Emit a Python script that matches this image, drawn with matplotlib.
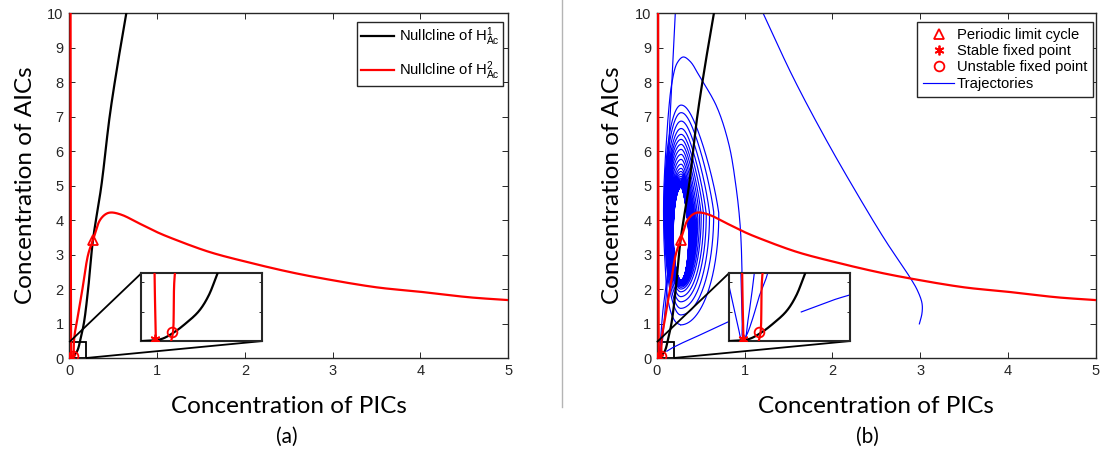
import numpy as np
import matplotlib.pyplot as plt
from matplotlib.lines import Line2D
from mpl_toolkits.axes_grid1.inset_locator import mark_inset

plt.rcParams['font.family'] = ['Liberation Sans', 'DejaVu Sans']
plt.rcParams['mathtext.default'] = 'regular'

# nullcline of H_Ac^1
h1_x = [0.0, 0.03, 0.05, 0.07, 0.09, 0.105, 0.12, 0.166, 0.215, 0.27, 0.366, 0.46, 0.55, 0.65]
h1_y = [0.0, 0.012, 0.055, 0.12, 0.2, 0.3, 0.46, 1.0, 2.0, 3.42, 5.0, 7.0, 8.5, 10.0]

# nullcline of H_Ac^2: branch along the AIC axis and the humped branch
h2a_x = [0.023, 0.021, 0.019, 0.017, 0.015]
h2a_y = [0.0, 0.46, 2.0, 5.0, 10.0]
h2b_x = [0.047, 0.05, 0.053, 0.065, 0.083, 0.15, 0.215, 0.27, 0.35, 0.42, 0.48, 0.6,
         0.8, 1.0, 1.17, 1.59, 2.0, 2.5, 2.88, 3.5, 4.0, 4.56, 5.0]
h2b_y = [0.0, 0.062, 0.46, 0.75, 1.0, 2.0, 3.0, 3.42, 4.0, 4.18, 4.22, 4.15,
         3.9, 3.65, 3.47, 3.08, 2.8, 2.5, 2.31, 2.05, 1.92, 1.76, 1.68]

# fixed points
cycle_pt = (0.27, 3.42)
stable_pt = (0.022, 0.016)
unstable_pt = (0.048, 0.062)

# trajectories
far_x = [1.21, 1.55, 1.93, 2.3, 2.6, 2.89, 2.97, 3.02, 3.02, 2.99]
far_y = [10.0, 8.15, 6.32, 4.68, 3.42, 2.31, 1.95, 1.59, 1.3, 0.99]

outer_x = [0.97, 0.97, 0.95, 0.9, 0.82, 0.68, 0.49, 0.38, 0.30, 0.23, 0.17, 0.135, 0.115,
           0.09, 0.077, 0.08, 0.096, 0.12, 0.17, 0.22, 0.27]
outer_y = [1.3, 2.46, 3.8, 5.0, 6.2, 7.3, 8.15, 8.6, 8.73, 8.55, 7.96, 7.2, 6.51,
           5.5, 4.58, 3.5, 2.65, 1.8, 1.25, 1.03, 0.96]

top_x = [0.21, 0.19, 0.17, 0.15, 0.135, 0.125, 0.12, 0.12, 0.125]
top_y = [10.0, 9.0, 8.0, 7.0, 6.0, 5.4, 5.0, 4.5, 4.0]

low_x = [0.114, 0.14, 0.165, 0.19, 0.3, 0.45, 0.6, 0.81, 0.9]
low_y = [0.198, 0.24, 0.28, 0.313, 0.45, 0.62, 0.8, 1.05, 1.15]

u1_x = [0.0, 0.0076, 0.015, 0.019, 0.023, 0.0285, 0.038, 0.0475, 0.061, 0.075, 0.09, 0.11, 0.13]
u1_y = [0.38, 0.23, 0.092, 0.023, 0.009, 0.046, 0.16, 0.3, 0.46, 0.8, 1.3, 1.9, 2.5]

u2_x = [0.019, 0.02, 0.021, 0.022, 0.025, 0.03, 0.036, 0.04, 0.05, 0.07, 0.1, 0.13]
u2_y = [0.46, 0.276, 0.138, 0.023, 0.014, 0.138, 0.32, 0.46, 0.8, 1.4, 2.0, 2.6]

# turns of the spiral winding onto the limit cycle (extremes of each turn)
loop_top = [7.43, 7.24, 6.99, 6.75, 6.56, 6.41, 6.27, 6.12, 5.98, 5.83,
            5.69, 5.55, 5.45, 5.37, 5.3, 5.24, 5.19, 5.15, 5.11, 5.08,
            5.05, 5.03, 5.01, 4.99, 4.98, 4.97, 4.96, 4.955, 4.95, 4.95]
loop_bottom = [0.96, 1.25, 1.44, 1.63, 1.78, 1.92, 2.0, 2.05, 2.09, 2.12,
               2.14, 2.16, 2.18, 2.19, 2.2, 2.21, 2.22, 2.225, 2.23, 2.235,
               2.24, 2.245, 2.25, 2.25, 2.255, 2.255, 2.26, 2.26, 2.26, 2.26]
loop_left = [0.075, 0.085, 0.094, 0.102, 0.109, 0.115, 0.12, 0.125, 0.13, 0.135,
             0.14, 0.145, 0.149, 0.153, 0.157, 0.161, 0.165, 0.168, 0.171, 0.174,
             0.177, 0.179, 0.181, 0.183, 0.184, 0.185, 0.186, 0.186, 0.187, 0.187]
loop_right = [0.72, 0.66, 0.61, 0.57, 0.54, 0.51, 0.49, 0.47, 0.455, 0.443,
              0.432, 0.423, 0.415, 0.408, 0.402, 0.396, 0.391, 0.386, 0.382, 0.378,
              0.375, 0.372, 0.37, 0.368, 0.367, 0.366, 0.365, 0.365, 0.364, 0.364]
loop_xc = 0.275


def smooth(x, y, n=24, sx=88.0, sy=34.5):
    # centripetal Catmull-Rom through the points, measured in screen-like units
    P = np.column_stack([np.asarray(x, float) * sx, np.asarray(y, float) * sy])
    P = np.vstack([2 * P[0] - P[1], P, 2 * P[-1] - P[-2]])
    out = []
    for i in range(len(P) - 3):
        p0, p1, p2, p3 = P[i:i + 4]
        t0 = 0.0
        t1 = t0 + np.linalg.norm(p1 - p0) ** 0.5 + 1e-9
        t2 = t1 + np.linalg.norm(p2 - p1) ** 0.5 + 1e-9
        t3 = t2 + np.linalg.norm(p3 - p2) ** 0.5 + 1e-9
        t = np.linspace(t1, t2, n, endpoint=False)[:, None]
        a1 = (t1 - t) / (t1 - t0) * p0 + (t - t0) / (t1 - t0) * p1
        a2 = (t2 - t) / (t2 - t1) * p1 + (t - t1) / (t2 - t1) * p2
        a3 = (t3 - t) / (t3 - t2) * p2 + (t - t2) / (t3 - t2) * p3
        b1 = (t2 - t) / (t2 - t0) * a1 + (t - t0) / (t2 - t0) * a2
        b2 = (t3 - t) / (t3 - t1) * a2 + (t - t1) / (t3 - t1) * a3
        out.append((t2 - t) / (t2 - t1) * b1 + (t - t1) / (t2 - t1) * b2)
    out.append(P[-2][None, :])
    out = np.vstack(out)
    return out[:, 0] / sx, out[:, 1] / sy


def spiral(top, bottom, left, right, xc, pts=240, lean=0.4):
    # counter-clockwise turns starting at the lowest point of the first turn;
    # the right flank narrows towards the top of each turn
    n = len(top)
    s = np.linspace(0, n - 1, (n - 1) * pts)
    k = np.arange(n)
    T = np.interp(s, k, top)
    B = np.interp(s, k, bottom)
    L = np.interp(s, k, left)
    R = np.interp(s, k, right)
    th = 2 * np.pi * s - np.pi / 2
    c, sn = np.cos(th), np.sin(th)
    right_side = xc + (R - xc) * c * (1 - lean * np.clip(sn, 0, None))
    x = np.where(c >= 0, right_side, xc + (xc - L) * c)
    y = (T + B) / 2 + (T - B) / 2 * sn
    return x, y


h1 = smooth(h1_x, h1_y)
h2a = smooth(h2a_x, h2a_y)
h2b = smooth(h2b_x, h2b_y)
trajectories = [smooth(far_x, far_y), smooth(outer_x, outer_y),
                spiral(loop_top, loop_bottom, loop_left, loop_right, loop_xc),
                smooth(top_x, top_y), smooth(low_x, low_y),
                smooth(u1_x, u1_y), smooth(u2_x, u2_y)]

RED = '#ff0000'
BLUE = '#0000ff'
DARK = '#262626'


def draw_model(a, lw=1.6, ms=7):
    a.plot(*h1, color='k', lw=lw, zorder=3)
    a.plot(*h2a, color=RED, lw=lw, zorder=3)
    a.plot(*h2b, color=RED, lw=lw, zorder=3)
    a.plot(*cycle_pt, marker='^', ms=ms, mfc='none', mec=RED, mew=1.3, zorder=4)
    a.plot(*stable_pt, marker=(6, 2, 0), ms=ms, mec=RED, mew=1.3, zorder=4)
    a.plot(*unstable_pt, marker='o', ms=ms, mfc='none', mec=RED, mew=1.3, zorder=4)


def style(a):
    a.set_xlim(0, 5)
    a.set_ylim(0, 10)
    a.set_xticks(range(6))
    a.set_yticks(range(11))
    a.tick_params(direction='in', top=True, right=True, length=4, width=0.7,
                  labelsize=10.5, colors=DARK, labelcolor=DARK, pad=4)
    for sp in a.spines.values():
        sp.set_color(DARK)
        sp.set_linewidth(1.0)
    a.set_xlabel('Concentration of PICs', family='Lato', fontsize=17.5, va='center')
    a.xaxis.set_label_coords(0.5, -0.142)
    a.set_ylabel('Concentration of AICs', family='Lato', fontsize=17.5, va='center')
    a.yaxis.set_label_coords(-0.1, 0.5)


def add_inset(a, with_traj):
    ins = a.inset_axes([0.164, 0.049, 0.275, 0.1965])
    if with_traj:
        for tx, ty in trajectories:
            ins.plot(tx, ty, color=BLUE, lw=0.85, zorder=2)
    draw_model(ins, lw=1.6, ms=7)
    ins.set_xlim(0, 0.19)
    ins.set_ylim(0, 0.46)
    ins.set_xticks([])
    ins.set_yticks([0.2, 0.4])
    ins.tick_params(direction='in', right=True, length=2.5, width=0.7,
                    labelleft=False, colors=DARK)
    for sp in ins.spines.values():
        sp.set_color(DARK)
        sp.set_linewidth(1.5)
    mark_inset(a, ins, loc1=2, loc2=4, fc='none', ec='k', lw=1.3)
    return ins


fig = plt.figure(figsize=(11.01, 4.61), dpi=100)
ax1 = fig.add_axes([0.0629, 0.2234, 0.3987, 0.748])
ax2 = fig.add_axes([0.5966, 0.2234, 0.3987, 0.748])

# (a) nullclines only
draw_model(ax1)
style(ax1)
add_inset(ax1, with_traj=False)
h_a = [Line2D([], [], color='k', lw=1.6), Line2D([], [], color=RED, lw=1.6)]
lab_a = [r'Nullcline of $H^1_{Ac}$', r'Nullcline of $H^2_{Ac}$']
leg = ax1.legend(h_a, lab_a, loc='upper right', bbox_to_anchor=(1 - 5 / 439, 1 - 9 / 345),
                 borderaxespad=0, fontsize=10.6, fancybox=False, framealpha=1,
                 handlelength=2.3, handletextpad=0.3, labelspacing=0.75, borderpad=0.25)
leg.get_frame().set_edgecolor(DARK)
leg.get_frame().set_linewidth(1.0)

# (b) with trajectories
for tx, ty in trajectories:
    ax2.plot(tx, ty, color=BLUE, lw=0.85, zorder=2)
draw_model(ax2)
style(ax2)
add_inset(ax2, with_traj=True)
h_b = [Line2D([], [], ls='none', marker='^', ms=7, mfc='none', mec=RED, mew=1.3),
       Line2D([], [], ls='none', marker=(6, 2, 0), ms=7, mec=RED, mew=1.3),
       Line2D([], [], ls='none', marker='o', ms=7, mfc='none', mec=RED, mew=1.3),
       Line2D([], [], color=BLUE, lw=0.85)]
lab_b = ['Periodic limit cycle', 'Stable fixed point', 'Unstable fixed point', 'Trajectories']
leg = ax2.legend(h_b, lab_b, loc='upper right', bbox_to_anchor=(1 - 2.5 / 439, 1 - 9 / 345),
                 borderaxespad=0, fontsize=10.6, fancybox=False, framealpha=1,
                 handlelength=2.1, handletextpad=0.2, labelspacing=0.15, borderpad=0.4)
leg.get_frame().set_edgecolor(DARK)
leg.get_frame().set_linewidth(1.0)

fig.text(0.2607, 0.052, '(a)', family='Lato', fontsize=15, ha='center', va='center')
fig.text(0.7875, 0.052, '(b)', family='Lato', fontsize=15, ha='center', va='center')
fig.add_artist(Line2D([562.3 / 1101, 562.3 / 1101], [1 - 406.7 / 461, 1.0],
                      color='#b4b4b4', lw=1.0))

fig.savefig('out.png', dpi=100)
